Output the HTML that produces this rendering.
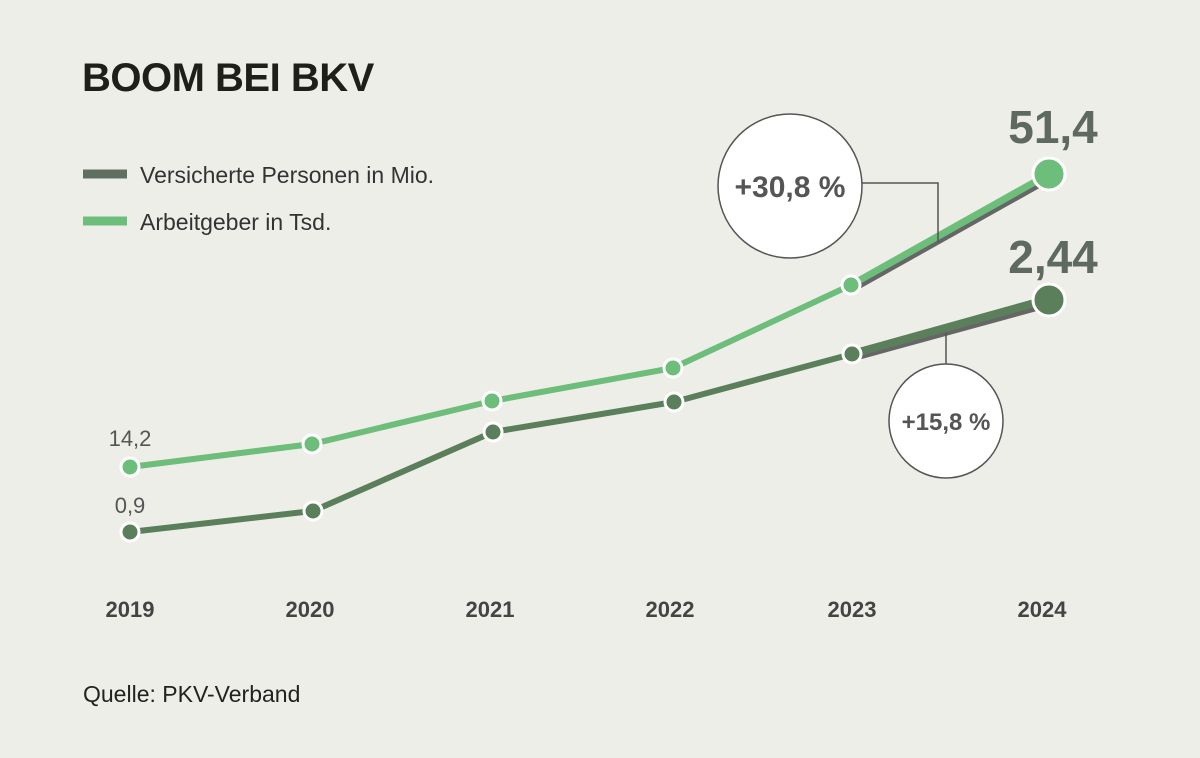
<!DOCTYPE html>
<html><head><meta charset="utf-8"><style>
html,body{margin:0;padding:0;background:#eeeee9;}
svg{display:block;font-family:"Liberation Sans",sans-serif;}
</style></head><body>
<svg width="1200" height="758" viewBox="0 0 1200 758">
<rect width="1200" height="758" fill="#eeeee9"/>
<text x="82" y="91" font-size="40" font-weight="bold" fill="#1e1e1a" letter-spacing="-0.5">BOOM BEI BKV</text>
<line x1="83" y1="174" x2="127" y2="174" stroke="#5f7060" stroke-width="9"/>
<text x="140" y="183" font-size="23" fill="#333">Versicherte Personen in Mio.</text>
<line x1="83" y1="221" x2="127" y2="221" stroke="#6dbd7b" stroke-width="9"/>
<text x="140" y="230" font-size="23" fill="#333">Arbeitgeber in Tsd.</text>

<!-- dark series -->
<polyline points="130,532 313,511 493,432 674,402 852,354" fill="none" stroke="#5a7f5a" stroke-width="6"/>
<line x1="852" y1="357" x2="1049" y2="303" stroke="#666" stroke-width="9"/>
<line x1="852" y1="354" x2="1049" y2="299" stroke="#5a7f5a" stroke-width="8"/>
<!-- light series -->
<polyline points="130,467 312,444 492,401 673,368 851,285" fill="none" stroke="#6dbd7b" stroke-width="6"/>
<line x1="853" y1="288" x2="1051" y2="177" stroke="#666" stroke-width="8"/>
<line x1="851" y1="285" x2="1049" y2="174" stroke="#6dbd7b" stroke-width="7"/>

<g stroke="#fff" stroke-width="3">
<circle cx="130" cy="532" r="9" fill="#5a7f5a"/><circle cx="313" cy="511" r="9" fill="#5a7f5a"/>
<circle cx="493" cy="432" r="9" fill="#5a7f5a"/><circle cx="674" cy="402" r="9" fill="#5a7f5a"/>
<circle cx="852" cy="354" r="9" fill="#5a7f5a"/><circle cx="1049" cy="300" r="16" fill="#5a7f5a"/>
<circle cx="130" cy="467" r="9" fill="#6dbd7b"/><circle cx="312" cy="444" r="9" fill="#6dbd7b"/>
<circle cx="492" cy="401" r="9" fill="#6dbd7b"/><circle cx="673" cy="368" r="9" fill="#6dbd7b"/>
<circle cx="851" cy="285" r="9" fill="#6dbd7b"/><circle cx="1049" cy="174" r="16" fill="#6dbd7b"/>
</g>

<text x="130" y="446" font-size="22" fill="#555" text-anchor="middle">14,2</text>
<text x="130" y="513" font-size="22" fill="#555" text-anchor="middle">0,9</text>
<text x="1053" y="143" font-size="46" fill="#5d6a5d" text-anchor="middle" font-weight="bold">51,4</text>
<text x="1053" y="273" font-size="46" fill="#5d6a5d" text-anchor="middle" font-weight="bold">2,44</text>

<!-- callouts -->
<polyline points="860,183 938,183 938,242" fill="none" stroke="#555" stroke-width="1.5"/>
<circle cx="790" cy="186" r="72" fill="#fff" stroke="#555" stroke-width="1.5"/>
<text x="790" y="197" font-size="30" fill="#555" text-anchor="middle" font-weight="bold">+30,8 %</text>
<line x1="946" y1="333" x2="946" y2="364" stroke="#555" stroke-width="1.5"/>
<circle cx="946" cy="421" r="57" fill="#fff" stroke="#555" stroke-width="1.5"/>
<text x="946" y="430" font-size="24" fill="#555" text-anchor="middle" font-weight="bold">+15,8 %</text>

<g font-size="22" fill="#444" text-anchor="middle" font-weight="bold">
<text x="130" y="617">2019</text><text x="310" y="617">2020</text><text x="490" y="617">2021</text>
<text x="670" y="617">2022</text><text x="852" y="617">2023</text><text x="1042" y="617">2024</text>
</g>
<text x="83" y="702" font-size="23" fill="#222">Quelle: PKV-Verband</text>
</svg>
</body></html>
